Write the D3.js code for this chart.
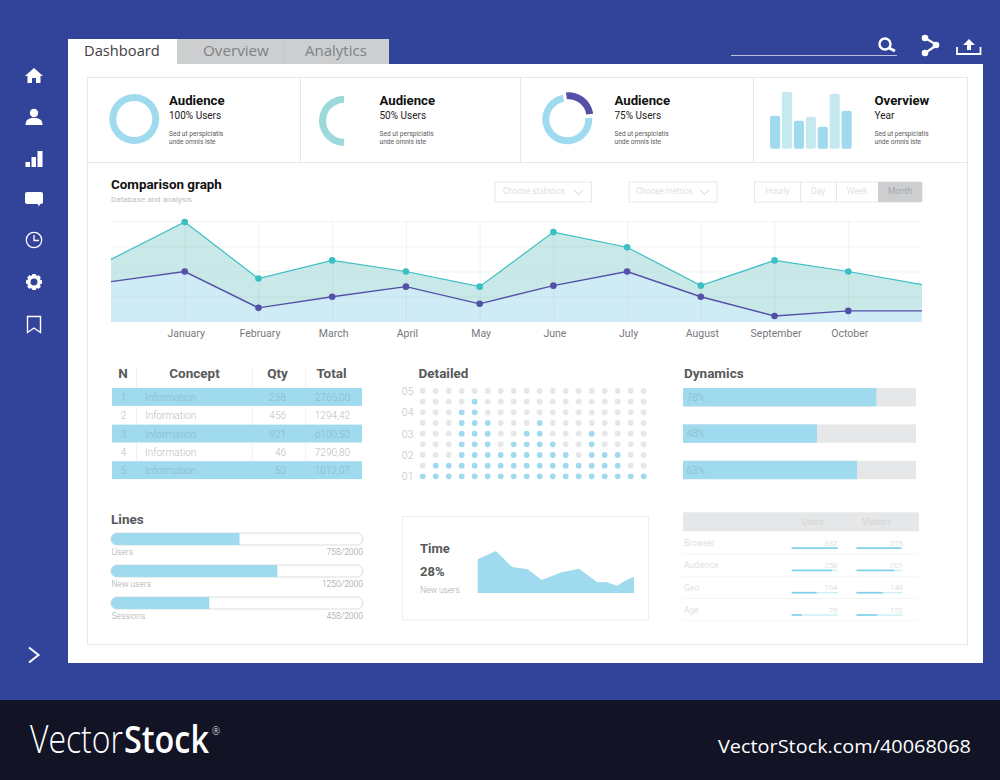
<!DOCTYPE html>
<html>
<head>
<meta charset="utf-8">
<title>Dashboard</title>
<script src="https://cdn.jsdelivr.net/npm/d3@7"></script>
<style>
  html, body { margin: 0; padding: 0; background: #32449a; }
  svg { display: block; }
  text { font-family: Roboto, sans-serif; }
  .axis .domain { display: none; }
</style>
</head>
<body>
<div id="chart"></div>
<script>
// chart values
const months = ["", "January", "February", "March", "April", "May", "June", "July", "August", "September", "October", " "];
const tealValues = [62, 99, 43, 61, 50, 35, 89, 74, 36, 61, 50, 37];
const purpleValues = [40, 50, 14, 25, 35, 18, 36, 50, 25, 6, 11, 11];

const donutFull = [100];
const donutHalf = [50, 50];
const donutParts = [25, 75];
const yearBars = [33, 57, 28, 32, 22, 55, 38];

const tableRows = ["1", "2", "3", "4", "5"];
const tableConcepts = ["Information", "Information", "Information", "Information", "Information"];
const tableQty = ["258", "456", "921", "46", "50"];
const tableTotal = ["2765,00", "1294,42", "6100,50", "7290,80", "1012,07"];

const detailLabels = ["05", "04", "03", "02", "01"];
const detailHeights = [1, 2, 2, 7, 8, 6, 3, 4, 5, 6, 4, 3, 2, 5, 3, 3, 1, 1];

const dynamicsLabels = ["78%", "48%", "63%"];
const dynamicsFill = [83, 57.5, 74.7];

const lineNames = ["Users", "New users", "Sessions"];
const lineTotals = ["758/2000", "1250/2000", "458/2000"];
const lineFill = [51, 66, 39];

const timeSteps = [0, 18.3, 34.3, 50, 64, 84, 101.3, 119.3, 129.3, 139.3, 148.7, 156.3];
const timeValues = [33.7, 42, 26, 23.7, 13, 20.7, 24.3, 11, 10.7, 7.3, 13, 16.3];

const sourceNames = ["Browser", "Audience", "Geo", "Age"];
const sourceUsers = ["332", "258", "164", "76"];
const sourceVisitors = ["278", "201", "148", "122"];
const sourceUsersFill = [100, 88, 54, 22];
const sourceVisitorsFill = [97, 82, 57, 45];

const NAVY = "#32449a", BLUE = "#9fdaef", PALE = "#c6e9ef", TEAL = "#3bbfc4", PURPLE = "#5450a8";
const LINE = "#e6e7e8", TAB = "#ccced0", DARK = "#58595b", MUTED = "#bcbec0", ONBLUE = "#8bb9ca";

const svg = d3.select("#chart").append("svg").attr("width", 1000).attr("height", 780);

function label(parent, x, y, str, size, fill, opts = {}) {
    const t = parent.append("text")
        .attr("x", x)
        .attr("y", y)
        .attr("dy", "0.35em")
        .attr("font-size", size)
        .attr("fill", fill)
        .attr("font-weight", opts.weight || 400)
        .attr("text-anchor", opts.anchor || "start")
        .text(str);
    if (opts.family) t.style("font-family", opts.family);
    return t;
}

function box(parent, x, y, w, h, fill, stroke) {
    return parent.append("rect").attr("x", x).attr("y", y).attr("width", w).attr("height", h)
        .attr("fill", fill).attr("stroke", stroke || "none");
}

// page frame
box(svg, 0, 0, 1000, 780, NAVY);
box(svg, 0, 700, 1000, 80, "#121325");
box(svg, 68, 64, 915, 599, "#fff");
box(svg, 68, 39, 109, 26, "#fff");
box(svg, 177, 39, 212, 25, TAB);
svg.append("path").attr("d", "M283.5,39V64").attr("stroke", "#c6c8ca");
label(svg, 84, 51, "Dashboard", 14.7, "#414042", { family: "'Open Sans'" });
label(svg, 203, 51, "Overview", 15.2, "#808285", { family: "'Open Sans'" });
label(svg, 305, 51, "Analytics", 15, "#808285", { family: "'Open Sans'" });

box(svg, 87.5, 77.5, 880, 567, "#fff", LINE);
svg.append("path").attr("stroke", LINE).attr("fill", "none")
    .attr("d", "M87.5,162.5H967.5M300.5,78V162M520.5,78V162M753.5,78V162");

// sidebar and toolbar icons
const icons = svg.append("g").attr("fill", "#fff");
icons.append("path").attr("d", "M34,68L43,76H40.5V83H36V78H32V83H27.5V76H25Z");
icons.append("circle").attr("cx", 34).attr("cy", 113).attr("r", 4.2);
icons.append("path").attr("d", "M25.5,125C25.5,119.5 29,118 34,118C39,118 42.5,119.5 42.5,125Z");
icons.append("path").attr("d", "M25.5,162H30V167H25.5ZM31.5,157H36V167H31.5ZM37.5,151H42.5V167H37.5Z");
icons.append("path").attr("d", "M27,192H41Q43,192 43,194V202Q43,204 41,204H40L39,206.5L37.5,204H27Q25,204 25,202V194Q25,192 27,192Z");
icons.append("circle").attr("cx", 34).attr("cy", 240).attr("r", 7.7).attr("fill", "none").attr("stroke", "#fff").attr("stroke-width", 1.3);
icons.append("path").attr("d", "M34,235V240.5H39").attr("fill", "none").attr("stroke", "#fff").attr("stroke-width", 1.3);
icons.append("circle").attr("cx", 34).attr("cy", 282).attr("r", 5.2).attr("fill", "none").attr("stroke", "#fff").attr("stroke-width", 3.4);
d3.range(8).forEach(i => {
    icons.append("rect").attr("x", 32.2).attr("y", 274).attr("width", 3.6).attr("height", 3)
        .attr("transform", `rotate(${i * 45} 34 282)`);
});
icons.append("path").attr("d", "M27.5,316.5H40.5V332.5L34,328L27.5,332.5Z").attr("fill", "none").attr("stroke", "#fff").attr("stroke-width", 1.4);
icons.append("path").attr("d", "M29,647.5L38.5,655L29,662.5").attr("fill", "none").attr("stroke", "#fff").attr("stroke-width", 2);

svg.append("path").attr("d", "M731,55.5H897").attr("stroke", "#b9c0e0").attr("stroke-width", 1);
icons.append("circle").attr("cx", 885).attr("cy", 44).attr("r", 5.5).attr("fill", "none").attr("stroke", "#fff").attr("stroke-width", 2.4);
icons.append("path").attr("d", "M889,48L895,51").attr("stroke", "#fff").attr("stroke-width", 3);
icons.append("path").attr("d", "M925,38L937,45L925,53").attr("fill", "none").attr("stroke", "#fff").attr("stroke-width", 2.2);
[[925, 38, 3.3], [936, 45, 3.3], [925, 53, 3.3]].forEach(p => {
    icons.append("circle").attr("cx", p[0]).attr("cy", p[1]).attr("r", p[2]);
});
icons.append("path").attr("d", "M957,47V54H980.5V47").attr("fill", "none").attr("stroke", "#fff").attr("stroke-width", 1.8);
icons.append("path").attr("d", "M969,39L975,45H971V50H967V45H963Z");

// summary row
const arc = d3.arc().innerRadius(18).outerRadius(25);
const sortedPie = d3.pie().sort(null);

const d1 = svg.append("g").attr("transform", "translate(134.3,119)");
d1.selectAll("path").data(sortedPie(donutFull)).enter().append("path").attr("d", arc).attr("fill", BLUE);

const d2 = svg.append("g").attr("transform", "translate(344,120.8)");
d2.selectAll("path").data(sortedPie(donutHalf)).enter().append("path")
    .attr("d", arc)
    .attr("fill", (d, i) => i === 1 ? "#9bd9db" : "none");

const partsPie = d3.pie().sort(null).padAngle(0.06).startAngle(-0.14).endAngle(2 * Math.PI - 0.14);
const d3Group = svg.append("g").attr("transform", "translate(567.3,119.3)");
d3Group.selectAll("path").data(partsPie(donutParts)).enter().append("path")
    .attr("d", arc)
    .attr("fill", (d, i) => i === 0 ? PURPLE : BLUE)
    .attr("transform", (d, i) => i === 0 ? "translate(1.2,-2)" : null);

const barX = d3.scaleBand().domain(d3.range(yearBars.length)).range([770, 851.7]).paddingInner(0.15);
const barY = d3.scaleLinear().domain([0, 57]).range([148.7, 91.7]);
svg.selectAll(".year-bar").data(yearBars).enter().append("rect")
    .attr("class", "year-bar")
    .attr("x", (d, i) => barX(i))
    .attr("y", d => barY(d))
    .attr("width", barX.bandwidth())
    .attr("height", d => barY(0) - barY(d))
    .attr("rx", 2)
    .attr("fill", (d, i) => i % 2 ? PALE : BLUE);

[[169, "Audience", "100% Users"], [379.5, "Audience", "50% Users"], [614.5, "Audience", "75% Users"], [874.5, "Overview", "Year"]]
    .forEach(c => {
        label(svg, c[0], 100, c[1], 13.2, "#111", { weight: 700 });
        label(svg, c[0], 115, c[2], 10, "#222");
        label(svg, c[0], 133.5, "Sed ut perspiciatis", 6.6, "#58595b");
        label(svg, c[0], 141.5, "unde omnis iste", 6.6, "#58595b");
    });

// comparison graph
label(svg, 111, 184.5, "Comparison graph", 13.4, "#111", { weight: 700 });
label(svg, 111, 199, "Database and analysis", 8.1, MUTED);

box(svg, 495, 182, 96.5, 20, "#fff", LINE);
label(svg, 503, 191.5, "Choose statistics", 8.2, "#d1d3d4", { weight: 300 });
box(svg, 629, 182, 88, 20, "#fff", LINE);
label(svg, 636, 191.5, "Choose metrics", 8.2, "#d1d3d4", { weight: 300 });
svg.append("path").attr("fill", "none").attr("stroke", "#d1d3d4")
    .attr("d", "M573.5,189.5L578.5,194.5L583.5,189.5M699.5,189.5L704.5,194.5L709.5,189.5");

box(svg, 754.5, 182, 167.5, 20, "#fff", LINE);
box(svg, 878, 182, 44, 20, TAB);
svg.append("path").attr("stroke", LINE).attr("d", "M800.5,182V202M836.5,182V202");
[[777.5, "Hourly", "#d1d3d4"], [818, "Day", "#d1d3d4"], [857, "Week", "#d1d3d4"], [900, "Month", "#939598"]].forEach(s => {
    label(svg, s[0], 191.5, s[1], 8.5, s[2], { anchor: "middle", weight: 300 });
});

const x = d3.scalePoint().domain(months).range([111, 922]);
const y = d3.scaleLinear().domain([0, 100]).range([322, 221]);

const base = svg.append("g");
const tealArea = d3.area().x((d, i) => x(months[i])).y0(y(0)).y1(d => y(d));
const valueLine = d3.line().x((d, i) => x(months[i])).y(d => y(d));

base.append("path").datum(tealValues).attr("d", tealArea).attr("fill", "#c9e9e8");
base.append("path").datum(purpleValues).attr("d", tealArea).attr("fill", "#cfebf6");

const gridY = svg.append("g").attr("class", "axis")
    .attr("transform", "translate(111,0)")
    .call(d3.axisLeft(y).tickValues([25, 50, 75, 100]).tickSize(-811).tickFormat(""));
gridY.selectAll("line").attr("stroke", "#8f9aa0").attr("stroke-opacity", 0.13);

const gridX = svg.append("g").attr("class", "axis")
    .attr("transform", "translate(0,322)")
    .call(d3.axisBottom(x).tickValues(months.slice(1, 11)).tickSize(-101).tickFormat(""));
gridX.selectAll("line").attr("stroke", "#8f9aa0").attr("stroke-opacity", 0.13);

const xAxis = svg.append("g").attr("class", "axis")
    .attr("transform", "translate(1,322)")
    .call(d3.axisBottom(x).tickValues(months.slice(1, 11)).tickSize(0).tickPadding(7.5));
xAxis.selectAll("text").attr("font-size", 10.5).attr("fill", "#77787b").style("font-family", "Roboto, sans-serif");

[[tealValues, TEAL, 3.3, 1.2], [purpleValues, PURPLE, 3.3, 1.4]].forEach(s => {
    svg.append("path").datum(s[0]).attr("d", valueLine).attr("fill", "none").attr("stroke", s[1]).attr("stroke-width", s[3]);
    svg.selectAll(null).data(s[0].slice(1, 11)).enter().append("circle")
        .attr("cx", (d, i) => x(months[i + 1]))
        .attr("cy", d => y(d))
        .attr("r", s[2])
        .attr("fill", s[1]);
});

// concept table
const rowY = d3.scaleBand().domain(tableRows).range([388, 479.5]).paddingInner(0);
label(svg, 123, 373.5, "N", 13.5, DARK, { weight: 700, anchor: "middle" });
label(svg, 194.5, 373.5, "Concept", 13.5, DARK, { weight: 700, anchor: "middle" });
label(svg, 277.5, 373.5, "Qty", 13.5, DARK, { weight: 700, anchor: "middle" });
label(svg, 331.5, 373.5, "Total", 13.5, DARK, { weight: 700, anchor: "middle" });
svg.append("path").attr("stroke", "#f1f2f2").attr("d", "M136.5,366V479M252.5,366V479M305.5,366V479");
tableRows.forEach((row, i) => {
    const odd = i % 2 === 0;
    const cy = rowY(row) + rowY.bandwidth() / 2 + 0.5;
    const color = odd ? ONBLUE : MUTED;
    if (odd) box(svg, 112, rowY(row), 250, rowY.bandwidth() - 0.4, BLUE);
    label(svg, 123.5, cy, row, 10, color, { weight: 300, anchor: "middle" });
    label(svg, 145, cy, tableConcepts[i], 10, color, { weight: 300 });
    label(svg, 286, cy, tableQty[i], 10, color, { weight: 300, anchor: "end" });
    label(svg, 350, cy, tableTotal[i], 10, color, { weight: 300, anchor: "end" });
});

// detailed dot matrix
label(svg, 418.5, 373.5, "Detailed", 13.5, DARK, { weight: 700 });
const dotX = d3.scaleLinear().domain([0, 17]).range([422.7, 643.7]);
const dotY = d3.scaleLinear().domain([0, 8]).range([476.3, 391]);
const labelY = d3.scalePoint().domain(detailLabels).range([391, 476.3]);
const detailAxis = svg.append("g").attr("class", "axis")
    .attr("transform", "translate(413.5,0)")
    .call(d3.axisLeft(labelY).tickSize(0).tickPadding(0));
detailAxis.selectAll("text").attr("font-size", 10.5).attr("font-weight", 300).attr("fill", MUTED).style("font-family", "Roboto, sans-serif");

detailHeights.forEach((h, col) => {
    d3.range(9).forEach(row => {
        svg.append("circle")
            .attr("cx", dotX(col))
            .attr("cy", dotY(row))
            .attr("r", 2.9)
            .attr("fill", row < h ? BLUE : "#e6e7e8");
    });
});

// dynamics
label(svg, 684, 373.5, "Dynamics", 13.5, DARK, { weight: 700 });
const dynX = d3.scaleLinear().domain([0, 100]).range([0, 233]);
dynamicsLabels.forEach((d, i) => {
    const top = 388 + i * 36.4;
    box(svg, 683, top, dynX(100), 18.4, "#e6e7e8");
    box(svg, 683, top, dynX(dynamicsFill[i]), 18.4, BLUE);
    label(svg, 686.5, top + 9.4, d, 10, ONBLUE, { weight: 300 });
});

// lines
label(svg, 111, 519.5, "Lines", 13.5, DARK, { weight: 700 });
const lineX = d3.scaleLinear().domain([0, 100]).range([0, 252]);
const defs = svg.append("defs");
lineNames.forEach((name, i) => {
    const top = 533 + i * 32;
    defs.append("clipPath").attr("id", `line-clip-${i}`)
        .append("rect").attr("x", 111).attr("y", top).attr("width", 252).attr("height", 12).attr("rx", 6);
    box(svg, 111, top, 252, 12, "#fff", "#dcddde").attr("rx", 6);
    box(svg, 111, top, lineX(lineFill[i]), 12, BLUE).attr("clip-path", `url(#line-clip-${i})`);
    label(svg, 111.5, top + 19.3, name, 8.5, "#a7a9ac", { weight: 300 });
    label(svg, 363, top + 19.3, lineTotals[i], 8.5, "#939598", { weight: 300, anchor: "end" });
});

// time card
box(svg, 402.5, 516.5, 246, 103.5, "#fff", "#eeeff0");
label(svg, 420, 548, "Time", 13, DARK, { weight: 700 });
label(svg, 420, 571, "28%", 13, DARK, { weight: 700 });
label(svg, 420, 590, "New users", 8.5, "#a7a9ac", { weight: 300 });
const timeX = d3.scaleLinear().domain([0, 156.3]).range([477.7, 634]);
const timeY = d3.scaleLinear().domain([0, 42]).range([593, 551]);
svg.append("path").datum(timeValues)
    .attr("d", d3.area().x((d, i) => timeX(timeSteps[i])).y0(timeY(0)).y1(d => timeY(d)))
    .attr("fill", BLUE);

// source table
box(svg, 683, 512.3, 236, 19, "#e6e7e8");
label(svg, 812.7, 522, "Users", 8.5, "#d1d3d4", { anchor: "middle" });
label(svg, 876.7, 522, "Visitors", 8.5, "#d1d3d4", { anchor: "middle" });
const miniX = d3.scaleLinear().domain([0, 100]).range([0, 46]);
sourceNames.forEach((name, i) => {
    const top = 533 + i * 22.3;
    label(svg, 684, top + 10, name, 8.5, "#d1d3d4", { weight: 300 });
    label(svg, 837.5, top + 10, sourceUsers[i], 8, "#d1d3d4", { weight: 300, anchor: "end" });
    label(svg, 903, top + 10, sourceVisitors[i], 8, "#d1d3d4", { weight: 300, anchor: "end" });
    box(svg, 683, top + 20.5, 234, 0.8, "#f1f2f2");
    [[791.7, sourceUsersFill[i]], [856.5, sourceVisitorsFill[i]]].forEach(b => {
        box(svg, b[0], top + 14.3, miniX(100), 1.6, "#d2eff8");
        box(svg, b[0], top + 14.3, miniX(b[1]), 1.6, "#7fd0ea");
    });
});

// footer, squeezed sideways to the widths in the picture
function squeezed(px, py, str, size, weight, targetWidth) {
    const t = svg.append("text")
        .attr("font-size", size)
        .attr("font-weight", weight)
        .attr("fill", "#fff")
        .style("font-family", "'Open Sans', sans-serif")
        .text(str);
    const sx = targetWidth / t.node().getComputedTextLength();
    t.attr("transform", `translate(${px},${py}) scale(${sx},1)`);
}
squeezed(30, 753, "Vector", 38, 300, 93);
squeezed(124, 753, "Stock", 38, 600, 85);
squeezed(212, 735, "®", 11, 300, 8);
squeezed(718, 752.5, "VectorStock.com/40068068", 19, 400, 253);
</script>
</body>
</html>
